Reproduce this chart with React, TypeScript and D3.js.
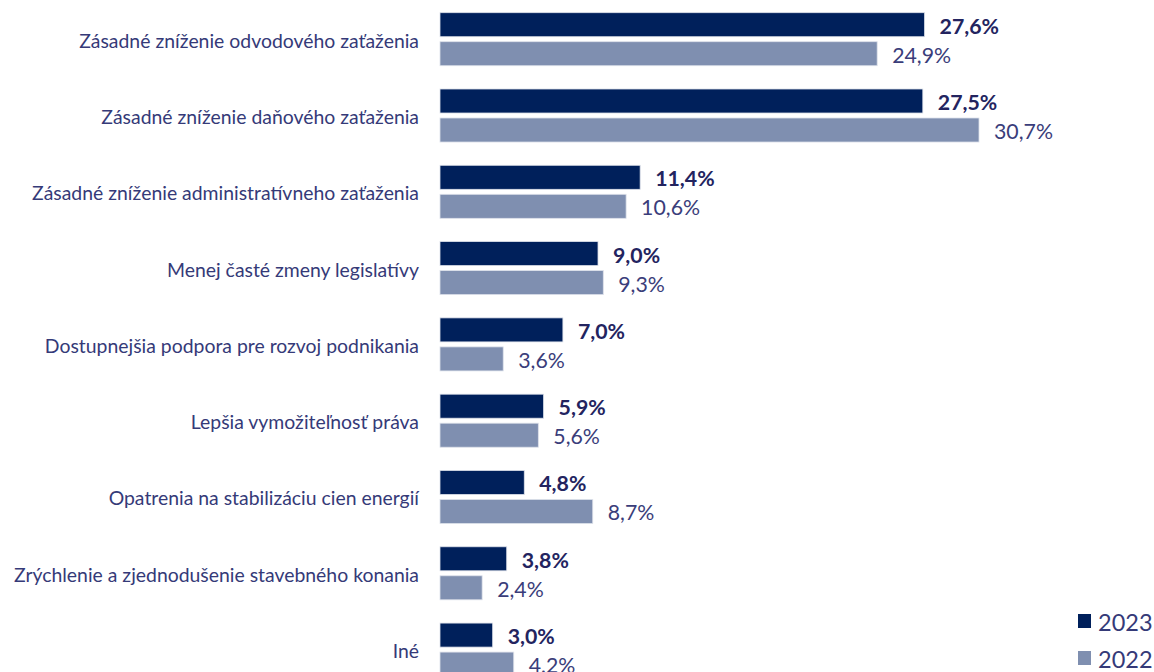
import React from "react";
import * as d3 from "d3";

const categories = [
  "Zásadné zníženie odvodového zaťaženia",
  "Zásadné zníženie daňového zaťaženia",
  "Zásadné zníženie administratívneho zaťaženia",
  "Menej časté zmeny legislatívy",
  "Dostupnejšia podpora pre rozvoj podnikania",
  "Lepšia vymožiteľnosť práva",
  "Opatrenia na stabilizáciu cien energií",
  "Zrýchlenie a zjednodušenie stavebného konania",
  "Iné",
];
const values2023 = [27.6, 27.5, 11.4, 9.0, 7.0, 5.9, 4.8, 3.8, 3.0];
const values2022 = [24.9, 30.7, 10.6, 9.3, 3.6, 5.6, 8.7, 2.4, 4.2];
const seriesNames = ["2023", "2022"];
const seriesColors = ["#00205b", "#7f8fb0"];

const W = 1154;
const H = 672;
const FONT = "Lato, 'Open Sans', sans-serif";

export default function App() {
  const x = d3.scaleLinear().domain([0, 30.7]).range([440, 979]);
  const y = d3
    .scaleBand<string>()
    .domain(categories)
    .range([12.7, 676.1])
    .paddingInner(0.305)
    .paddingOuter(0);
  const inner = d3
    .scaleBand<string>()
    .domain(seriesNames)
    .range([0, y.bandwidth()])
    .paddingInner(0.172);
  const series = [values2023, values2022];
  const fmt = (v: number) => v.toFixed(1).replace(".", ",") + "%";

  return (
    <svg
      width={W}
      height={H}
      style={{ position: "absolute", left: 0, top: 0, background: "#fff" }}
      fontFamily={FONT}
    >
      {categories.map((c, i) => {
        const y0 = y(c)!;
        return (
          <g key={c}>
            <text
              x={419}
              y={y0 + y.bandwidth() / 2 + 1}
              textAnchor="end"
              dominantBaseline="central"
              fontSize={19.4}
              fill="#353a78"
            >
              {c}
            </text>
            {seriesNames.map((s, k) => {
              const v = series[k][i];
              const by = y0 + inner(s)!;
              return (
                <g key={s}>
                  <rect
                    x={x(0)}
                    y={by}
                    width={x(v) - x(0)}
                    height={inner.bandwidth()}
                    fill={seriesColors[k]}
                    stroke="#dde1ea"
                    strokeWidth={0.8}
                  />
                  <text
                    x={x(v) + 15}
                    y={by + inner.bandwidth() / 2 + 1}
                    dominantBaseline="central"
                    fontSize={21.3}
                    fontWeight={k === 0 ? 700 : 400}
                    fill={k === 0 ? "#23245f" : "#3a3d7a"}
                  >
                    {fmt(v)}
                  </text>
                </g>
              );
            })}
          </g>
        );
      })}
      {seriesNames.map((s, k) => (
        <g key={s} transform={`translate(1078, ${614 + k * 37})`}>
          <rect x={0} y={0} width={13} height={14} fill={seriesColors[k]} />
          <text
            x={20}
            y={7.5}
            dominantBaseline="central"
            fontSize={23.5}
            fill="#353a78"
          >
            {s}
          </text>
        </g>
      ))}
    </svg>
  );
}
